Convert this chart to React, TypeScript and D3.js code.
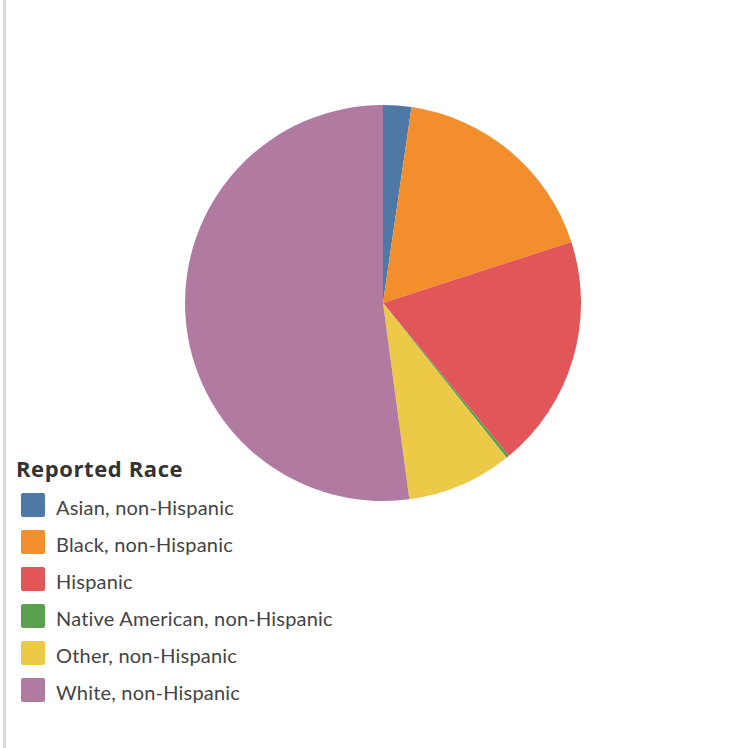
import React from "react";
import * as d3 from "d3";

const categories = [
  "Asian, non-Hispanic",
  "Black, non-Hispanic",
  "Hispanic",
  "Native American, non-Hispanic",
  "Other, non-Hispanic",
  "White, non-Hispanic",
];
const values = [2.3, 17.7, 19.0, 0.25, 8.6, 52.1];
const colors = ["#4e79a7", "#f28e2b", "#e15759", "#59a14f", "#edc948", "#b07aa1"];
const legendTitle = "Reported Race";

export default function App() {
  const W = 743, H = 748;
  const cx = 383, cy = 303, r = 198;
  const data = categories.map((c, i) => ({ c, v: values[i], col: colors[i] }));
  const pie = d3.pie<any>().sort(null).value((d) => d.v);
  const arc = d3.arc<any>().innerRadius(0).outerRadius(r);
  const arcs = pie(data);
  return (
    <svg width={W} height={H} style={{ position: "absolute", left: 0, top: 0, fontFamily: "Lato, sans-serif" }}>
      <rect x={0} y={0} width={W} height={H} fill="#fff" />
      <rect x={3} y={0} width={3} height={H} fill="#d9d9d9" />
      <g transform={`translate(${cx},${cy})`}>
        {arcs.map((a, i) => (
          <path key={i} d={arc(a) as string} fill={a.data.col} />
        ))}
      </g>
      <text x={16} y={477} fontSize={22} fontWeight="bold" letterSpacing={0.6} fill="#333" style={{ fontFamily: "'Open Sans', sans-serif" }}>{legendTitle}</text>
      {data.map((d, i) => (
        <g key={i} transform={`translate(21,${493 + i * 37})`}>
          <rect x={0} y={0} width={24} height={24} rx={2} fill={d.col} />
          <text x={35} y={22} fontSize={20} letterSpacing={0.2} fill="#444">{d.c}</text>
        </g>
      ))}
    </svg>
  );
}
